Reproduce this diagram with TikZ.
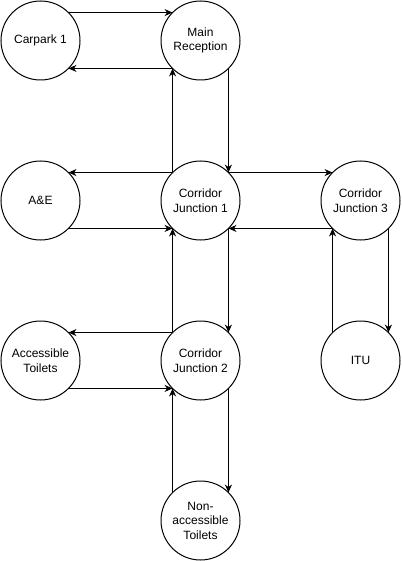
\documentclass[tikz,border=0pt]{standalone}
\usepackage{fontspec}
\setmainfont{Liberation Sans}
\usetikzlibrary{arrows.meta}
\begin{document}
\begin{tikzpicture}[x=1pt,y=-1pt,
  place/.style={circle,draw,line width=1pt,minimum size=79pt,inner sep=0pt,outer sep=0pt,align=center,font=\fontsize{12}{14.5}\selectfont},
  link/.style={draw,line width=1pt,-{Stealth[length=8pt,width=7pt,inset=2.5pt]}}]
\useasboundingbox (0,0) rectangle (401,561);
\node[place] (cp) at (40.5,40.5) {Carpark 1};
\node[place] (mr) at (200.5,40.5) {Main\\Reception};
\node[place] (ae) at (40.5,200.5) {A\&E};
\node[place] (j1) at (200.5,200.5) {Corridor\\Junction 1};
\node[place] (j3) at (360.5,200.5) {Corridor\\Junction 3};
\node[place] (at) at (40.5,360.5) {Accessible\\Toilets};
\node[place] (j2) at (200.5,360.5) {Corridor\\Junction 2};
\node[place] (itu) at (360.5,360.5) {ITU};
\node[place] (nt) at (200.5,520.5) {Non-\\accessible\\Toilets};
\path[link] (cp.45) -- (mr.135);
\path[link] (mr.225) -- (cp.-45);
\path[link] (j1.135) -- (mr.225);
\path[link] (mr.-45) -- (j1.45);
\path[link] (j1.135) -- (ae.45);
\path[link] (ae.-45) -- (j1.225);
\path[link] (j1.45) -- (j3.135);
\path[link] (j3.225) -- (j1.-45);
\path[link] (j3.-45) -- (itu.45);
\path[link] (itu.135) -- (j3.225);
\path[link] (j1.-45) -- (j2.45);
\path[link] (j2.135) -- (j1.225);
\path[link] (j2.135) -- (at.45);
\path[link] (at.-45) -- (j2.225);
\path[link] (j2.-45) -- (nt.45);
\path[link] (nt.135) -- (j2.225);
\end{tikzpicture}
\end{document}
